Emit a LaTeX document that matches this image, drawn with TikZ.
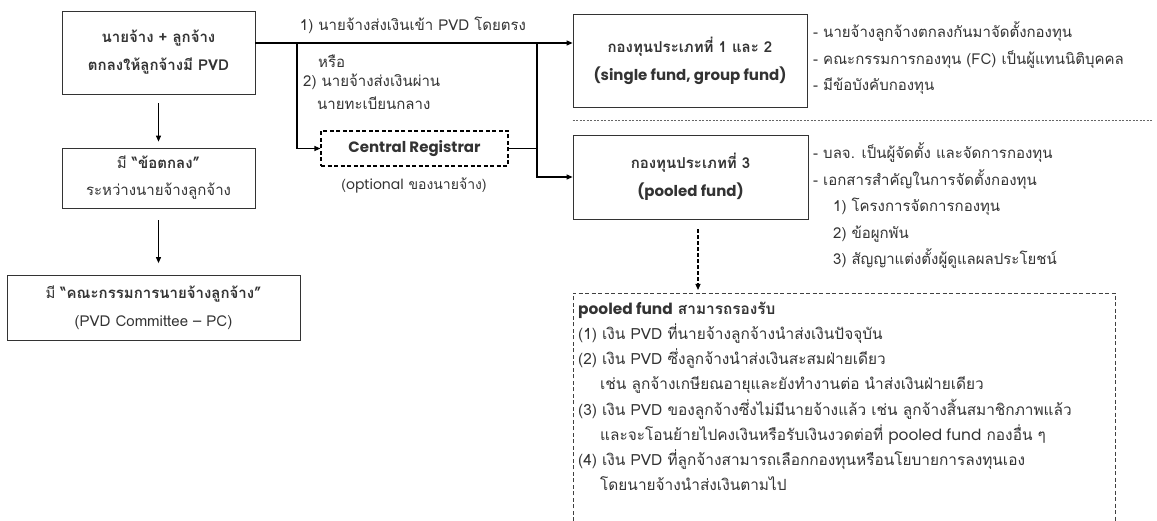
\documentclass[tikz,border=0pt]{standalone}
\usepackage{fontspec}
\setmainfont[Script=Thai]{Loma}
\newfontfamily\lat{Poppins}
\usetikzlibrary{arrows.meta,calc}
\definecolor{ink}{HTML}{333333}
\begin{document}
\begin{tikzpicture}[x=1pt,y=-1pt,
  every node/.style={text=ink, font=\fontsize{15}{26.5}\selectfont, inner sep=0pt},
  box/.style={draw=black!80, line width=0.8pt, align=center},
  conn/.style={draw=black, line width=1.1pt},
  arr/.style={conn, -{Triangle[length=6pt,width=5pt]}},
  note/.style={align=left, anchor=west},
  bold/.style={font=\bfseries\fontsize{15}{28}\selectfont}
]
\useasboundingbox (0,0) rectangle (1157,521);

% left column
\node[box, bold, minimum width=193pt, minimum height=83pt] (A) at (158.5,52.5)
  {นายจ้าง + ลูกจ้าง\\ตกลงให้ลูกจ้างมี PVD};
\node[box, font=\fontsize{15}{27}\selectfont, minimum width=193pt, minimum height=60pt] (B) at (158.5,178)
  {มี \textbf{“ข้อตกลง”}\\ระหว่างนายจ้างลูกจ้าง};
\node[box, font=\fontsize{15}{28}\selectfont, minimum width=293pt, minimum height=65pt] (C) at (153.5,308)
  {มี \textbf{“คณะกรรมการนายจ้างลูกจ้าง”}\\(PVD Committee – PC)};
\draw[arr, shorten <=9pt, shorten >=6pt] (A.south) -- (A.south |- B.north);
\draw[arr, shorten <=12pt, shorten >=12pt] (B.south) -- (B.south |- C.north);

% funds
\node[box, bold, minimum width=234pt, minimum height=93pt] (F12) at (690,60.5)
  {กองทุนประเภทที่ 1 และ 2\\{\lat\bfseries (single fund, group fund)}};
\node[box, bold, minimum width=235pt, minimum height=84pt] (F3) at (690.5,177)
  {กองทุนประเภทที่ 3\\{\lat\bfseries (pooled fund)}};
\node[draw=black, line width=1.1pt, dash pattern=on 4pt off 2.5pt, bold,
  minimum width=187pt, minimum height=35pt] (CR) at (414.5,148.5) {\lat\bfseries Central Registrar};

% connectors
\coordinate (j1) at (297,43);
\coordinate (j2) at (537,43);
\draw[arr] (A.east |- j1) -- (F12.west |- j1);
\draw[arr] (j1) |- (CR.west);
\draw[conn] (CR.east) -- (CR.east -| j2);
\draw[arr] (j2) |- (F3.west);

% labels
\node (l1) at (413,25) {1) นายจ้างส่งเงินเข้า PVD โดยตรง};
\node[anchor=west] (l2) at (318,61) {หรือ};
\node[anchor=west] (l3) at (303,82) {2) นายจ้างส่งเงินผ่าน};
\node[anchor=west] (l4) at (317,103) {นายทะเบียนกลาง};
\node[font=\fontsize{14}{16}\selectfont] (opt) at (414,185) {({\lat optional} ของนายจ้าง)};

% separator
\coordinate (sepE) at (1152,120);
\draw[black!60, line width=0.6pt, dash pattern=on 2pt off 1.5pt] (F12.west |- sepE) -- (sepE);

% notes
\node[note] (n12) at (813,58.5)
  {- นายจ้างลูกจ้างตกลงกันมาจัดตั้งกองทุน\\- คณะกรรมการกองทุน (FC) เป็นผู้แทนนิติบุคคล\\- มีข้อบังคับกองทุน};
\node[note] (n3) at (813,206)
  {- บลจ. เป็นผู้จัดตั้ง และจัดการกองทุน\\- เอกสารสำคัญในการจัดตั้งกองทุน\\
   \hspace*{20pt}1) โครงการจัดการกองทุน\\\hspace*{20pt}2) ข้อผูกพัน\\\hspace*{20pt}3) สัญญาแต่งตั้งผู้ดูแลผลประโยชน์};

% pooled fund box (open at the bottom)
\node[anchor=north west, minimum width=542pt, minimum height=228pt] (pool) at (573,293) {};
\draw[black!75, line width=0.7pt, dash pattern=on 4pt off 2.5pt]
  (pool.south west) -- (pool.north west) -- (pool.north east) -- (pool.south east);
\node[anchor=north west, align=left, font=\fontsize{15.4}{25.1}\selectfont] (ptxt) at (578,302)
  {{\lat\bfseries pooled fund} \textbf{สามารถรองรับ}\\
   (1) เงิน PVD ที่นายจ้างลูกจ้างนำส่งเงินปัจจุบัน\\
   (2) เงิน PVD ซึ่งลูกจ้างนำส่งเงินสะสมฝ่ายเดียว\\
   \hspace*{22pt}เช่น ลูกจ้างเกษียณอายุและยังทำงานต่อ นำส่งเงินฝ่ายเดียว\\
   (3) เงิน PVD ของลูกจ้างซึ่งไม่มีนายจ้างแล้ว เช่น ลูกจ้างสิ้นสมาชิกภาพแล้ว\\
   \hspace*{22pt}และจะโอนย้ายไปคงเงินหรือรับเงินงวดต่อที่ {\lat pooled fund} กองอื่น ๆ\\
   (4) เงิน PVD ที่ลูกจ้างสามารถเลือกกองทุนหรือนโยบายการลงทุนเอง\\
   \hspace*{22pt}โดยนายจ้างนำส่งเงินตามไป};

\coordinate (dx) at (698,0);
\draw[arr, dash pattern=on 4pt off 2pt, shorten <=10pt, shorten >=3pt] (F3.south -| dx) -- (pool.north -| dx);
\end{tikzpicture}
\end{document}
